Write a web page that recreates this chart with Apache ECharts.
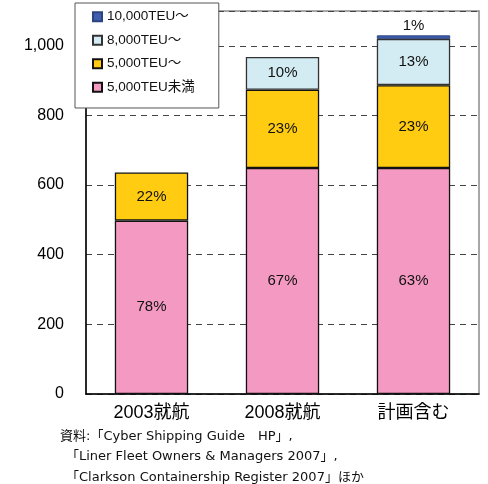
<!DOCTYPE html>
<html>
<head>
<meta charset="utf-8">
<script src="https://cdn.jsdelivr.net/npm/echarts@6/dist/echarts.min.js"></script>
<style>
  html, body { margin: 0; padding: 0; background: #fff; }
  #chart { width: 488px; height: 484px; }
</style>
</head>
<body>
<div id="chart"></div>
<script>
// Container ship fleet by size class (thousand TEU, stacked)
const categories = ['2003就航', '2008就航', '計画含む'];
const under5000 = [498, 649, 649];
const from5000 = [138, 225, 238];
const from8000 = [null, 94, 133];
const from10000 = [null, null, 10];
const yTicks = { min: 0, max: 1100, interval: 200 };
const sourceLines = [
  '資料:「Cyber Shipping Guide　HP」,',
  '「Liner Fleet Owners & Managers 2007」,',
  '「Clarkson Containership Register 2007」ほか'
];

const totals = categories.map((_, i) =>
  [under5000, from5000, from8000, from10000].reduce((s, arr) => s + (arr[i] || 0), 0));

const pctLabel = (p) => Math.round(p.value / totals[p.dataIndex] * 100) + '%';

const cjk = '"Liberation Sans", "Noto Sans CJK JP", sans-serif';
const noteFont = '"DejaVu Sans", "Noto Sans CJK JP", sans-serif';

function barSeries(name, data, color, border, borderWidth, labelPos) {
  return {
    name: name,
    type: 'bar',
    stack: 'fleet',
    data: data,
    barWidth: '56%',
    itemStyle: { color: color, borderColor: border, borderWidth: borderWidth },
    label: {
      show: true,
      position: labelPos,
      formatter: pctLabel,
      color: '#111',
      fontSize: 15,
      fontFamily: cjk,
      distance: 2
    }
  };
}

const chart = echarts.init(document.getElementById('chart'), null, { renderer: 'canvas' });
chart.setOption({
  animation: false,
  backgroundColor: '#fff',
  grid: {
    left: 86, right: 9, top: 11, bottom: 90,
    show: true, borderColor: '#8a8a8a', borderWidth: 1.5, backgroundColor: 'transparent'
  },
  legend: {
    orient: 'vertical',
    left: 75, top: 3,
    data: ['10,000TEU〜', '8,000TEU〜', '5,000TEU〜', '5,000TEU未満'],
    itemWidth: 9, itemHeight: 9,
    itemGap: 10,
    padding: [7, 24, 14, 17],
    backgroundColor: '#fff',
    borderColor: '#555',
    borderWidth: 1,
    icon: 'rect',
    textStyle: { fontSize: 13.5, fontFamily: cjk, color: '#111' }
  },
  xAxis: {
    type: 'category',
    data: categories,
    axisLine: { lineStyle: { color: '#000', width: 1.5 } },
    axisTick: { show: false },
    axisLabel: { color: '#000', fontSize: 18, fontFamily: cjk, margin: 10 }
  },
  yAxis: {
    type: 'value',
    min: yTicks.min, max: yTicks.max, interval: yTicks.interval,
    axisLine: { show: true, lineStyle: { color: '#000', width: 1.5 } },
    axisTick: { show: false },
    axisLabel: {
      color: '#000', fontSize: 16, fontFamily: cjk, margin: 22,
      showMaxLabel: false,
      formatter: (v) => v > 1000 ? '' : v.toLocaleString('en-US')
    },
    splitLine: { show: true, lineStyle: { color: '#444', type: [6, 5], width: 1 } }
  },
  series: [
    barSeries('5,000TEU未満', under5000, '#F49AC2', '#111', 1.3, 'inside'),
    barSeries('5,000TEU〜', from5000, '#FFCC11', '#111', 1.3, 'inside'),
    barSeries('8,000TEU〜', from8000, '#D3ECF3', '#333', 1.3, 'inside'),
    barSeries('10,000TEU〜', from10000, '#3F5EAD', '#2B4380', 1, 'top')
  ],
  graphic: sourceLines.map((t, i) => ({
    type: 'text',
    left: i === 0 ? 60 : 66,
    top: 430 + i * 20.5,
    style: { text: t, fontSize: 13, fontFamily: noteFont, fill: '#111' }
  }))
});
</script>
</body>
</html>
